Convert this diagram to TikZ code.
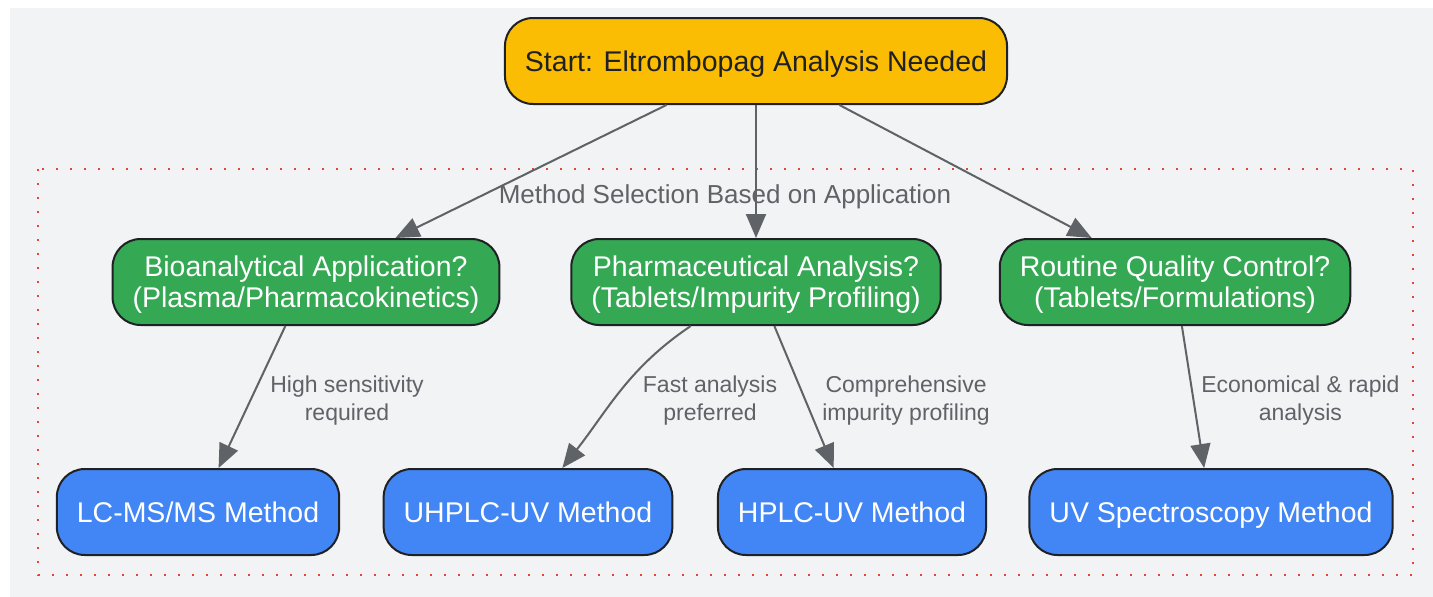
\documentclass[tikz,border=0pt]{standalone}
\usepackage{fontspec}
\setmainfont{Liberation Sans}
\usetikzlibrary{arrows.meta,positioning}
\definecolor{panel}{HTML}{F1F3F4}
\definecolor{ink}{HTML}{202124}
\definecolor{edgegray}{HTML}{5F6368}
\definecolor{gyellow}{HTML}{FBBC04}
\definecolor{ggreen}{HTML}{34A853}
\definecolor{gblue}{HTML}{4285F4}
\definecolor{dotred}{HTML}{EA4335}
\begin{document}
\begin{tikzpicture}[x=1pt,y=-1pt,
	box/.style={draw=ink,line width=2pt,rounded corners=28pt,minimum height=86pt,inner xsep=20pt,align=center,font=\fontsize{28.5}{31}\selectfont,text height=20.4pt,text depth=0pt},
	startbox/.style={box,fill=gyellow,text=ink},
	askbox/.style={box,fill=ggreen,text=white,text height=51.4pt},
	methodbox/.style={box,fill=gblue,text=white},
	arr/.style={-{Triangle[length=24pt,width=20pt]},color=edgegray,line width=2pt},
	lbl/.style={text=edgegray,align=center,anchor=west,yshift=-4pt,font=\fontsize{23}{28}\selectfont}]
		\useasboundingbox (0,0) rectangle (1433,597);
		\fill[panel] (10,8) rectangle (1433,597);
		% cluster
		\draw[dotred,line width=2pt,dash pattern=on 2pt off 12pt] (38,169) rectangle (1413,575);
		\node[text=edgegray,font=\fontsize{26}{30}\selectfont](grp) at (725,197) {Method Selection Based on Application};
		% nodes
		\node[startbox](start) at (756,61) {Start: Eltrombopag Analysis Needed};
		\node[askbox](bio) at (306,282) {Bioanalytical Application?\\(Plasma/Pharmacokinetics)};
		\node[askbox](pharm) at (756,282) {Pharmaceutical Analysis?\\(Tablets/Impurity Profiling)};
		\node[askbox](qc) at (1175,282) {Routine Quality Control?\\(Tablets/Formulations)};
		\node[methodbox](lcms) at (198,512) {LC-MS/MS Method};
		\node[methodbox](uhplc) at (528,512) {UHPLC-UV Method};
		\node[methodbox](hplc) at (852,512) {HPLC-UV Method};
		\node[methodbox](uvs) at (1211,512) {UV Spectroscopy Method};
		% edges
		\path[arr]
		(start) edge (bio)
		(start) edge (pharm)
		(start) edge (qc)
		(bio) edge node[lbl,pos=.5,xshift=14pt] {High sensitivity\\required} (lcms)
		(pharm) edge[out=214,in=52] node[lbl,pos=.5,xshift=18pt,yshift=-6pt] {Fast analysis\\preferred} (uhplc)
		(pharm) edge node[lbl,pos=.5,xshift=14pt] {Comprehensive\\impurity profiling} (hplc)
		(qc) edge node[lbl,pos=.5,xshift=4pt] {Economical \& rapid\\analysis} (uvs);
\end{tikzpicture}
\end{document}
